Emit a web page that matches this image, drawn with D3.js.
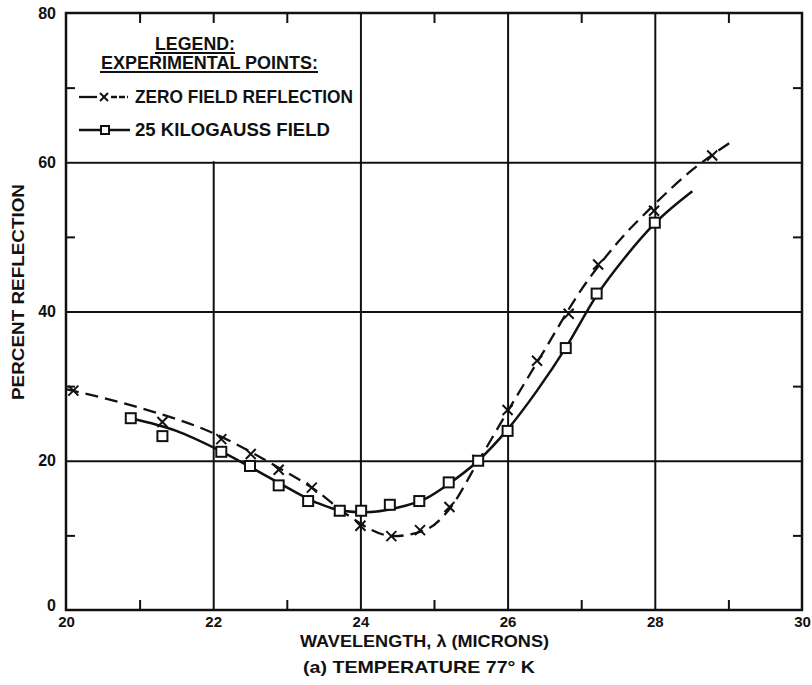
<!DOCTYPE html>
<html>
<head>
<meta charset="utf-8">
<script src="https://cdn.jsdelivr.net/npm/d3@7"></script>
<style>
  body { margin: 0; background: #fff; }
  text { font-family: "Liberation Sans", Arial, sans-serif; font-weight: bold; fill: #111; }
</style>
</head>
<body>
<script>
// REFLECTION CHART - 77 K

// Data
const zeroFieldX = [20.1, 21.31, 22.11, 22.51, 22.89, 23.34, 23.71, 24.0, 24.42, 24.81, 25.21, 25.59, 26.0, 26.4, 26.83, 27.23, 27.99, 28.78];
const zeroFieldY = [29.4, 25.2, 22.9, 20.9, 18.8, 16.4, 13.3, 11.3, 9.9, 10.7, 13.8, 20.1, 26.8, 33.4, 39.7, 46.3, 53.5, 60.9];
const kiloGaussX = [20.88, 21.31, 22.11, 22.5, 22.89, 23.29, 23.72, 24.01, 24.4, 24.8, 25.2, 25.6, 26.0, 26.79, 27.21, 28.0];
const kiloGaussY = [25.7, 23.3, 21.2, 19.3, 16.7, 14.6, 13.3, 13.3, 14.1, 14.6, 17.1, 20.0, 24.0, 35.1, 42.4, 51.9];

// Fitted curves as drawn on the plot
const zeroCurveX = [20.0, 21.0, 22.0, 22.9, 23.4, 23.8, 24.45, 24.9, 25.2, 25.6, 26.0, 26.5, 27.0, 27.5, 28.0, 28.5, 29.05];
const zeroCurveY = [29.6, 27.1, 23.7, 19.0, 16.0, 12.9, 9.9, 10.8, 13.4, 19.9, 26.6, 34.8, 42.9, 49.3, 54.4, 58.9, 62.8];
const gaussCurveX = [20.88, 21.5, 22.1, 22.9, 23.4, 23.75, 24.05, 24.5, 24.9, 25.2, 25.6, 26.0, 26.4, 26.8, 27.2, 27.6, 28.0, 28.51];
const gaussCurveY = [25.7, 24.0, 21.3, 17.0, 14.4, 13.3, 13.1, 13.7, 15.0, 16.9, 20.0, 24.2, 29.4, 35.3, 42.0, 47.3, 51.8, 56.1];

// Ticks
const xLabels = [20, 22, 24, 26, 28, 30];
const xGrid = [22, 24, 26, 28];
const xMinor = [21, 23, 25, 27, 29];
const yLabels = [0, 20, 40, 60, 80];
const yGrid = [20, 40, 60];
const yMinor = [10, 30, 50, 70];

// Needed Variables
const width = 812;
const height = 685;
const margin = {top: 13, right: 10, bottom: 75, left: 66};
const ink = '#111';

var svg = d3.select('body')
  .append('svg')
  .attr('width', width)
  .attr('height', height);

// Scales
var xScale = d3.scaleLinear()
  .domain([20, 30])
  .range([margin.left, width - margin.right]);

var yScale = d3.scaleLinear()
  .domain([0, 80])
  .range([height - margin.bottom, margin.top]);

var plotW = width - margin.left - margin.right;
var plotH = height - margin.top - margin.bottom;

// Grid lines
svg.append('g')
  .attr('transform', 'translate(0,' + (height - margin.bottom) + ')')
  .call(d3.axisBottom(xScale).tickValues(xGrid).tickSize(-plotH).tickFormat(''))
  .call(g => g.select('.domain').remove())
  .selectAll('line').attr('stroke', ink).attr('stroke-width', 2);

svg.append('g')
  .attr('transform', 'translate(' + margin.left + ',0)')
  .call(d3.axisLeft(yScale).tickValues(yGrid).tickSize(-plotW).tickFormat(''))
  .call(g => g.select('.domain').remove())
  .selectAll('line').attr('stroke', ink).attr('stroke-width', 2);

// Legend area is left clear of grid lines
svg.append('rect')
  .attr('x', xScale(20))
  .attr('y', yScale(80))
  .attr('width', xScale(24) - xScale(20) - 1)
  .attr('height', yScale(60) - yScale(80) - 1)
  .attr('fill', '#fff');

// Minor ticks
var tickStyle = g => {
  g.select('.domain').remove();
  g.selectAll('line').attr('stroke', ink).attr('stroke-width', 2);
};
svg.append('g')
  .attr('transform', 'translate(0,' + yScale(0) + ')')
  .call(d3.axisBottom(xScale).tickValues(xMinor).tickSize(-10).tickFormat(''))
  .call(tickStyle);
svg.append('g')
  .attr('transform', 'translate(0,' + yScale(80) + ')')
  .call(d3.axisTop(xScale).tickValues(xMinor.concat([22])).tickSize(-10).tickFormat(''))
  .call(tickStyle);
svg.append('g')
  .attr('transform', 'translate(' + xScale(20) + ',0)')
  .call(d3.axisLeft(yScale).tickValues(yMinor).tickSize(-9).tickFormat(''))
  .call(tickStyle);
svg.append('g')
  .attr('transform', 'translate(' + xScale(30) + ',0)')
  .call(d3.axisRight(yScale).tickValues(yMinor).tickSize(-9).tickFormat(''))
  .call(tickStyle);

// Frame
svg.append('rect')
  .attr('x', xScale(20))
  .attr('y', yScale(80))
  .attr('width', plotW)
  .attr('height', plotH)
  .attr('fill', 'none')
  .attr('stroke', ink)
  .attr('stroke-width', 2.5);

// Tick labels
svg.append('g')
  .attr('transform', 'translate(0,' + yScale(0) + ')')
  .call(d3.axisBottom(xScale).tickValues(xLabels).tickSize(0).tickPadding(6))
  .call(g => g.select('.domain').remove())
  .selectAll('text')
  .style('font-size', '15px')
  .style('font-family', '"Liberation Sans", Arial, sans-serif')
  .style('font-weight', 'bold')
  .attr('fill', ink);

svg.append('g')
  .attr('transform', 'translate(' + margin.left + ',0)')
  .call(d3.axisLeft(yScale).tickValues(yLabels).tickSize(0).tickPadding(10))
  .call(g => g.select('.domain').remove())
  .selectAll('text')
  .style('font-size', '16px')
  .style('font-family', '"Liberation Sans", Arial, sans-serif')
  .style('font-weight', 'bold')
  .attr('fill', ink)
  .attr('dy', d => d === 0 ? '0.05em' : '0.32em');

// Axis titles
svg.append('text')
  .attr('x', 18)
  .attr('y', 292)
  .attr('transform', 'rotate(-90,18,292)')
  .attr('text-anchor', 'middle')
  .attr('dominant-baseline', 'central')
  .attr('font-size', 16)
  .attr('textLength', 216)
  .attr('lengthAdjust', 'spacingAndGlyphs')
  .text('PERCENT  REFLECTION');

svg.append('text')
  .attr('x', 300)
  .attr('y', 647)
  .attr('font-size', 16.5)
  .attr('textLength', 249)
  .attr('lengthAdjust', 'spacingAndGlyphs')
  .text('WAVELENGTH, λ (MICRONS)');

svg.append('text')
  .attr('x', 303)
  .attr('y', 673)
  .attr('font-size', 17)
  .attr('textLength', 232)
  .attr('lengthAdjust', 'spacingAndGlyphs')
  .text('(a) TEMPERATURE  77° K');

// Curves
var line = d3.line()
  .x(d => xScale(d[0]))
  .y(d => yScale(d[1]))
  .curve(d3.curveMonotoneX);

svg.append('path')
  .attr('d', line(d3.zip(zeroCurveX, zeroCurveY)))
  .attr('fill', 'none')
  .attr('stroke', ink)
  .attr('stroke-width', 2.3)
  .attr('stroke-dasharray', '13,7');

svg.append('path')
  .attr('d', line(d3.zip(gaussCurveX, gaussCurveY)))
  .attr('fill', 'none')
  .attr('stroke', ink)
  .attr('stroke-width', 2.5);

// Markers
var cross = 'M-5,-5L5,5M-5,5L5,-5';

svg.append('g')
  .selectAll('path')
  .data(d3.zip(zeroFieldX, zeroFieldY))
  .join('path')
  .attr('transform', d => 'translate(' + xScale(d[0]) + ',' + yScale(d[1]) + ')')
  .attr('d', cross)
  .attr('stroke', ink)
  .attr('stroke-width', 2);

svg.append('g')
  .selectAll('rect')
  .data(d3.zip(kiloGaussX, kiloGaussY))
  .join('rect')
  .attr('x', d => xScale(d[0]) - 5)
  .attr('y', d => yScale(d[1]) - 5)
  .attr('width', 10)
  .attr('height', 10)
  .attr('fill', '#fff')
  .attr('stroke', ink)
  .attr('stroke-width', 2);

// Legend
var legend = svg.append('g');

legend.append('text')
  .attr('x', 155).attr('y', 50)
  .attr('font-size', 18)
  .attr('textLength', 80)
  .attr('lengthAdjust', 'spacingAndGlyphs')
  .text('LEGEND:');
legend.append('line')
  .attr('x1', 155).attr('x2', 235).attr('y1', 53).attr('y2', 53)
  .attr('stroke', ink).attr('stroke-width', 2);

legend.append('text')
  .attr('x', 101).attr('y', 69)
  .attr('font-size', 18)
  .attr('textLength', 217)
  .attr('lengthAdjust', 'spacingAndGlyphs')
  .text('EXPERIMENTAL POINTS:');
legend.append('line')
  .attr('x1', 100).attr('x2', 318).attr('y1', 72).attr('y2', 72)
  .attr('stroke', ink).attr('stroke-width', 2);

// Row 1: zero field
legend.append('line')
  .attr('x1', 79).attr('x2', 97).attr('y1', 97).attr('y2', 97)
  .attr('stroke', ink).attr('stroke-width', 2.3);
legend.append('path')
  .attr('transform', 'translate(104,97)')
  .attr('d', 'M-4,-4L4,4M-4,4L4,-4')
  .attr('stroke', ink).attr('stroke-width', 2);
legend.append('line')
  .attr('x1', 111).attr('x2', 128).attr('y1', 97).attr('y2', 97)
  .attr('stroke', ink).attr('stroke-width', 2.3)
  .attr('stroke-dasharray', '6,2');
legend.append('text')
  .attr('x', 135).attr('y', 103)
  .attr('font-size', 18)
  .attr('textLength', 218)
  .attr('lengthAdjust', 'spacingAndGlyphs')
  .text('ZERO FIELD REFLECTION');

// Row 2: 25 kilogauss
legend.append('line')
  .attr('x1', 79).attr('x2', 130).attr('y1', 130).attr('y2', 130)
  .attr('stroke', ink).attr('stroke-width', 2.5);
legend.append('rect')
  .attr('x', 101).attr('y', 126).attr('width', 8).attr('height', 8)
  .attr('fill', '#fff').attr('stroke', ink).attr('stroke-width', 2);
legend.append('text')
  .attr('x', 135).attr('y', 136)
  .attr('font-size', 18)
  .attr('textLength', 195)
  .attr('lengthAdjust', 'spacingAndGlyphs')
  .text('25  KILOGAUSS FIELD');
</script>
</body>
</html>
